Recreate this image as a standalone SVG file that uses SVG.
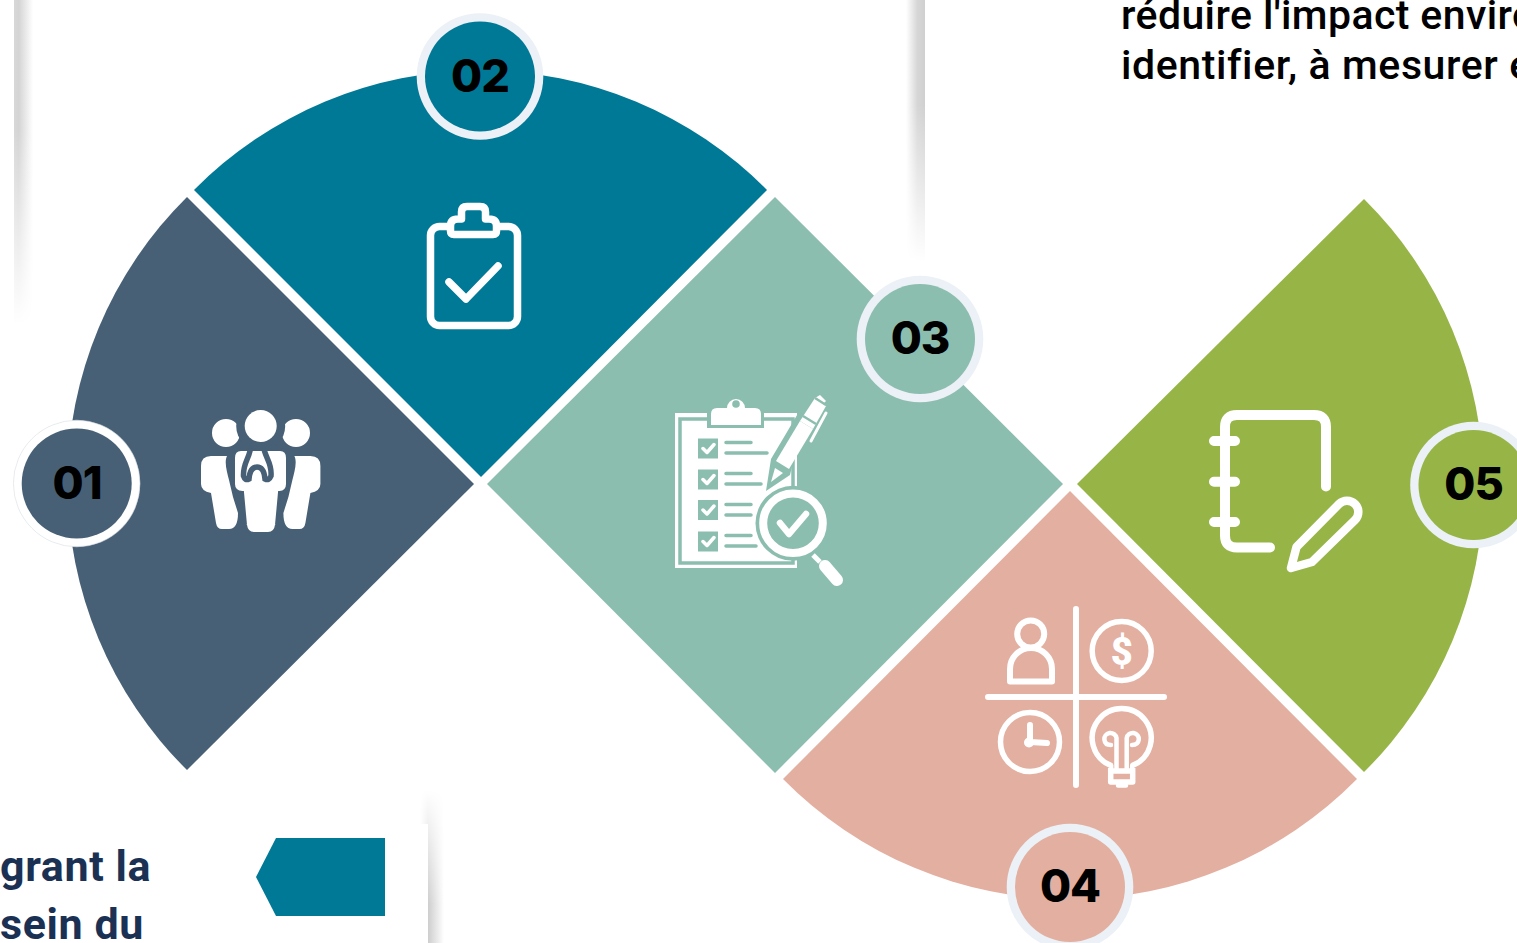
<svg xmlns="http://www.w3.org/2000/svg" width="1517" height="943" viewBox="0 0 1517 943">
<style>
.num{font-family:Inter,"Liberation Sans",sans-serif;font-weight:800;font-size:45px;letter-spacing:-1px;fill:#000;text-anchor:middle}
.body{font-family:Roboto,"Liberation Sans",sans-serif;font-weight:500;font-size:41px;fill:#000}
.bold{font-family:Roboto,"Liberation Sans",sans-serif;font-weight:700;font-size:43px;letter-spacing:.6px;fill:#1A3154}
.w{fill:none;stroke:#fff;stroke-linecap:round;stroke-linejoin:round}
</style>
<defs>
<linearGradient id="shL"><stop offset="0" stop-color="#d8d8d8"/><stop offset=".25" stop-color="#d4d4d4"/><stop offset="1" stop-color="#fff"/></linearGradient>
<linearGradient id="shR"><stop offset="0" stop-color="#fff"/><stop offset=".6" stop-color="#d6d6d6"/><stop offset="1" stop-color="#d0d0d0"/></linearGradient>
<linearGradient id="shP"><stop offset="0" stop-color="#fff"/><stop offset=".33" stop-color="#cdcdcd"/><stop offset="1" stop-color="#fff"/></linearGradient>
<linearGradient id="fd" x1="0" y1="0" x2="0" y2="1"><stop offset=".4" stop-color="#fff"/><stop offset="1" stop-color="#000"/></linearGradient>
<linearGradient id="fu" x1="0" y1="0" x2="0" y2="1"><stop offset="0" stop-color="#000"/><stop offset=".75" stop-color="#fff"/></linearGradient>
<mask id="m1" maskContentUnits="objectBoundingBox"><rect width="1" height="1" fill="url(#fd)"/></mask>
<mask id="m2" maskContentUnits="objectBoundingBox"><rect width="1" height="1" fill="url(#fu)"/></mask>
</defs>
<rect width="1517" height="943" fill="#fff"/>
<g id="shadows">
<rect x="14" y="0" width="19" height="325" fill="url(#shL)" mask="url(#m1)"/>
<rect x="906" y="0" width="19" height="262" fill="url(#shR)" mask="url(#m1)"/>
<rect x="420" y="790" width="24" height="153" fill="url(#shP)" mask="url(#m2)"/>
<rect x="0" y="824" width="428" height="119" fill="#fff"/>
</g>
<g id="label-text">
<text class="body" x="1121" y="29" letter-spacing=".4">réduire l'impact enviro</text>
<text class="body" x="1121" y="79" letter-spacing=".6">identifier, à mesurer e</text>
<text class="bold" x="0" y="881">grant la</text>
<text class="bold" x="0" y="939">sein du</text>
<polygon points="256,877 276,838 385,838 385,916 276,916" fill="#007996"/>
</g>
<g id="node-01">
<path d="M474 484L187 197A403 403 0 0 0 187 770Z" fill="#476076"/>
<path fill="#fff" d="M212 433a14 14 0 1 1 28 0a14 14 0 1 1-28 0zM282 433a14 14 0 1 1 28 0a14 14 0 1 1-28 0z"/>
<circle cx="260.700" cy="426" r="24.500" fill="#476076"/>
<circle cx="260.700" cy="426" r="16" fill="#fff"/>
<path fill="#fff" d="M201 466Q201 456 211 456H227C224 462 227 472 229 480L233 497L238 513Q238 529 229 529H222Q217 529 216 523L211 493Q201 491 201 484Z"/>
<path fill="#fff" d="M320.400 466Q320.400 456 310.400 456H294.400C297.400 462 294.400 472 292.400 480L288.400 497L283.400 513Q283.400 529 292.400 529H299.400Q304.400 529 305.400 523L310.400 493Q320.400 491 320.400 484Z"/>
<path fill="#fff" stroke="#476076" stroke-width="3" d="M241 449.500H280Q287.500 449.500 287.500 458V484Q287.500 492 279.500 492.500L276.500 525Q275.500 533.500 268 533.500H254Q246.500 533.500 245.500 525L242.500 492.500Q233.500 492 233.500 484V458Q233.500 449.500 241 449.500Z"/>
<path fill="none" stroke="#476076" stroke-width="5.500" stroke-linecap="round" d="M250 451C248 460 243 464 243.500 476Q245 481 249 479Q250 467 257 467Q264 467 265 479Q269 481 271 476C272 464 267 460 264.500 451"/>
<circle cx="76.700" cy="483.500" r="63.300" fill="#fff" stroke="#d8dde2" stroke-width=".6"/>
<circle cx="76.700" cy="483.500" r="55" fill="#476076"/>
<text class="num" x="77" y="499">01</text>
</g>
<g id="node-02">
<path d="M481 477L194 190A403 403 0 0 1 767 190Z" fill="#007996"/>
<rect x="430.500" y="226.500" width="87" height="99" rx="9" fill="none" stroke="#fff" stroke-width="7.500"/>
<path fill="#007996" stroke="#fff" stroke-width="7.500" stroke-linejoin="round" d="M454 234.500H493Q496.500 234.500 496.500 231V226Q496.500 219 489 219H485.500V212Q485.500 206.500 480 206.500H467Q461.500 206.500 461.500 212V219H458Q450.500 219 450.500 226V231Q450.500 234.500 454 234.500Z"/>
<path class="w" stroke-width="7.500" d="M449 282L466 299L498 266"/>
<circle cx="480" cy="76.500" r="63.300" fill="#EBF1F6"/>
<circle cx="480" cy="76.500" r="55" fill="#007996"/>
<text class="num" x="480" y="92">02</text>
</g>
<g id="node-03">
<polygon points="775,197 1063,484 775,773 487,484" fill="#8CBEB0"/>
<rect x="675" y="413" width="122" height="155" fill="#fff"/>
<rect x="680" y="419" width="113" height="144" fill="none" stroke="#8CBEB0" stroke-width="3.500"/>
<rect x="707" y="404" width="57" height="24" fill="#8CBEB0"/>
<path fill="#fff" d="M711 425V414Q711 408 717 408H727A9 9 0 0 1 745 408H755Q761 408 761 414V425Z"/>
<circle cx="736" cy="404" r="3.800" fill="#8CBEB0"/>
<g fill="#8CBEB0"><rect x="698" y="438.500" width="20" height="20"/><rect x="698" y="469.500" width="20" height="20"/><rect x="698" y="500" width="20" height="20"/><rect x="698" y="531.500" width="20" height="20"/></g>
<path class="w" stroke-width="3.500" d="M703 448.500l4 4 7-8M703 479.500l4 4 7-8M703 510l4 4 7-8M703 541.500l4 4 7-8"/>
<path fill="none" stroke="#8CBEB0" stroke-width="3.500" stroke-linecap="round" d="M726 442.500H751M726 453H767M726 473.500H751M726 484H761M726 504.500H751M726 515H751M726 535.500H751M726 546H756"/>
<polygon points="766,491 771,459 803,405 812,412 797,445 790,475" fill="#8CBEB0"/>
<polygon points="771,482 775,468 783,473" fill="#fff"/>
<polygon points="776,461 800,421 813,429 789,469" fill="#fff"/>
<polygon points="800,421 815,398 826,406 813,429" fill="#fff"/>
<polygon points="815,398 820,395 826,401 821,406" fill="#fff"/>
<path fill="none" stroke="#8CBEB0" stroke-width="2.500" d="M803 416L816 424M815 398L826 405"/>
<path class="w" stroke-width="3" d="M826 413L811 441"/>
<circle cx="793" cy="523.300" r="37.500" fill="#8CBEB0"/>
<circle cx="793" cy="523.300" r="29.800" fill="#8CBEB0" stroke="#fff" stroke-width="8"/>
<path class="w" stroke-width="6.500" d="M780 523L789 534L806 514"/>
<path fill="none" stroke="#fff" stroke-width="5" d="M813 555L820 562"/>
<path class="w" stroke-width="12" d="M825 566L837 580"/>
<circle cx="920" cy="339" r="63.300" fill="#EBF1F6"/>
<circle cx="920" cy="339" r="55" fill="#8CBEB0"/>
<text class="num" x="920" y="354">03</text>
</g>
<g id="node-04">
<path d="M1070 491L1357 779A403 403 0 0 1 783 779Z" fill="#E3AFA0"/>
<path class="w" stroke-width="6" d="M1076 609V785M988 697H1164"/>
<circle class="w" stroke-width="6" cx="1030.700" cy="634" r="13.500"/>
<path class="w" stroke-width="6" d="M1010 681.500V669A21 21 0 0 1 1052 669V681.500Z"/>
<circle class="w" stroke-width="5.500" cx="1121.700" cy="651" r="29.500"/>
<circle class="w" stroke-width="5.500" cx="1030" cy="742" r="29.500"/>
<path class="w" stroke-width="6" d="M1030 725V742L1047 743"/>
<circle cx="1029" cy="742.500" r="5" fill="#fff"/>
<path class="w" stroke-width="5.500" d="M1110.700 765.400A29.500 29.500 0 1 1 1132.700 765.400V782H1110.700ZM1110.700 771H1132.700"/>
<path class="w" stroke-width="4.500" d="M1116.500 770V738A6 6 0 1 0 1104.500 740Q1105 745 1111 745M1126.700 770V738A6 6 0 1 1 1138.700 740Q1138 745 1132 745M1118 785.500H1126"/>
<text x="1121.700" y="665" text-anchor="middle" font-family="Roboto,'Liberation Sans',sans-serif" font-weight="900" font-size="38" fill="#fff">$</text>
<circle cx="1070" cy="887" r="63.300" fill="#EBF1F6"/>
<circle cx="1070" cy="887" r="55" fill="#E3AFA0"/>
<text class="num" x="1070" y="902">04</text>
</g>
<g id="node-05">
<path d="M1077 484L1364 199A403 403 0 0 1 1364 772Z" fill="#96B546"/>
<path class="w" stroke-width="10" d="M1270 547.500H1237Q1225 547.500 1225 535.500V427Q1225 415 1237 415H1314Q1326 415 1326 427V486.500"/>
<path class="w" stroke-width="10" d="M1214 441H1235M1214 481.700H1235M1214 522H1235"/>
<path class="w" stroke-width="8.500" d="M1291 568L1296.500 547L1339 504A11 11 0 0 1 1355 520L1312 562Z"/>
<circle cx="1473.500" cy="485" r="63.300" fill="#EBF1F6"/>
<circle cx="1473.500" cy="485" r="55" fill="#96B546"/>
<text class="num" x="1473.500" y="500">05</text>
</g>
</svg>
